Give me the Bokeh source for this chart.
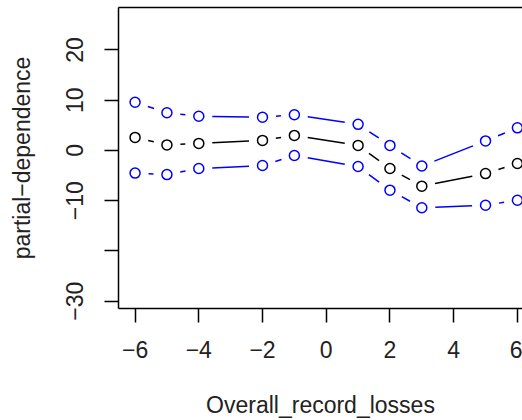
import math
from bokeh.plotting import figure
from bokeh.models import Range1d, LinearAxis, FixedTicker, ColumnDataSource
from bokeh.embed import file_html
from bokeh.resources import INLINE

# Partial dependence of the response on Overall_record_losses,
# with upper and lower bands around the central estimate.
x_vals = [-6, -5, -4, -2, -1, 1, 2, 3, 5, 6]
upper = [9.6, 7.5, 6.8, 6.6, 7.1, 5.2, 1.0, -3.1, 1.9, 4.5]
center = [2.6, 1.1, 1.4, 2.0, 3.0, 1.0, -3.6, -7.1, -4.6, -2.6]
lower = [-4.5, -4.8, -3.6, -3.0, -1.0, -3.2, -7.9, -11.4, -10.9, -9.9]

x_ticks = [-6, -4, -2, 0, 2, 4, 6]
y_ticks = [-30, -20, -10, 0, 10, 20]
y_tick_text = {-30: "\u221230", -20: "", -10: "\u221210", 0: "0", 10: "10", 20: "20"}
x_tick_text = {t: (str(t).replace("-", "\u2212")) for t in x_ticks}

FONT = "Liberation Sans"
FS = "23px"

X0, X1 = -6.52, 6.16
Y0, Y1 = -31.45, 28.45
FW, FH = 404, 301

p = figure(
    frame_width=FW, frame_height=FH,
    min_border_left=118, min_border_top=7, min_border_right=0, min_border_bottom=112,
    x_range=Range1d(X0, X1), y_range=Range1d(Y0, Y1),
    output_backend="svg", toolbar_location=None,
    x_axis_label="Overall_record_losses", y_axis_label="partial\u2212dependence",
)
p.background_fill_color = "white"
p.border_fill_color = "white"
p.outline_line_color = None
p.grid.visible = False

for ax in (p.xaxis[0], p.yaxis[0]):
    ax.axis_line_width = 1.5
    ax.major_tick_line_width = 1.5
    ax.major_tick_out = 14
    ax.major_tick_in = 0
    ax.minor_tick_out = 0
    ax.minor_tick_in = 0
    ax.major_label_text_font = FONT
    ax.major_label_text_font_size = FS
    ax.major_label_text_color = "#222222"
    ax.axis_label_text_font = FONT
    ax.axis_label_text_font_size = FS
    ax.axis_label_text_font_style = "normal"
    ax.axis_label_text_color = "#222222"

p.xaxis[0].ticker = FixedTicker(ticks=x_ticks)
p.xaxis[0].major_label_overrides = x_tick_text
p.xaxis[0].major_label_standoff = 18
p.xaxis[0].axis_label_standoff = 31

p.yaxis[0].ticker = FixedTicker(ticks=y_ticks)
p.yaxis[0].major_label_overrides = y_tick_text
p.yaxis[0].major_label_orientation = "vertical"
p.yaxis[0].major_label_standoff = 21
p.yaxis[0].axis_label_standoff = 29

# top edge of the plot box
top = LinearAxis(ticker=FixedTicker(ticks=[]), axis_line_width=1.5,
                 major_tick_out=0, major_tick_in=0, minor_tick_out=0, minor_tick_in=0,
                 major_label_text_font_size="0px", major_label_standoff=0)
p.add_layout(top, "above")

# type="b": line pieces between points, broken around each marker
GAP = 13.5
sx = FW / (X1 - X0)
sy = FH / (Y1 - Y0)


def broken_segments(xs, ys):
    x0s, y0s, x1s, y1s = [], [], [], []
    for i in range(len(xs) - 1):
        dx = (xs[i + 1] - xs[i]) * sx
        dy = (ys[i + 1] - ys[i]) * sy
        L = math.hypot(dx, dy)
        if L <= 2 * GAP:
            continue
        ux, uy = dx / L, dy / L
        x0s.append(xs[i] + GAP * ux / sx)
        y0s.append(ys[i] + GAP * uy / sy)
        x1s.append(xs[i + 1] - GAP * ux / sx)
        y1s.append(ys[i + 1] - GAP * uy / sy)
    return dict(x0=x0s, y0=y0s, x1=x1s, y1=y1s)


for ys, col in ((upper, "#0000ff"), (lower, "#0000ff"), (center, "black")):
    seg = ColumnDataSource(broken_segments(x_vals, ys))
    p.segment("x0", "y0", "x1", "y1", source=seg, line_color=col, line_width=1.5)
    p.scatter(x_vals, ys, marker="circle", size=10, fill_color=None,
              line_color=col, line_width=1.5)

open("out.html", "w").write(file_html(p, INLINE))
